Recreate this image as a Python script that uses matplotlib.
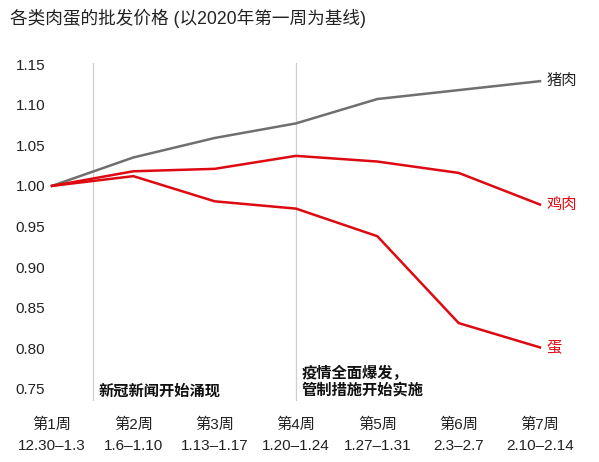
import matplotlib.pyplot as plt
import numpy as np

plt.rcParams['font.family'] = ['Liberation Sans', 'Noto Sans CJK SC', 'DejaVu Sans']

weeks = ["第1周", "第2周", "第3周", "第4周", "第5周", "第6周", "第7周"]
dates = ["12.30–1.3", "1.6–1.10", "1.13–1.17", "1.20–1.24",
         "1.27–1.31", "2.3–2.7", "2.10–2.14"]
pork = [1.000, 1.035, 1.059, 1.077, 1.107, 1.118, 1.129]
chicken = [1.000, 1.018, 1.021, 1.037, 1.030, 1.016, 0.977]
egg = [1.000, 1.012, 0.981, 0.972, 0.938, 0.831, 0.801]
yticks = [0.75, 0.80, 0.85, 0.90, 0.95, 1.00, 1.05, 1.10, 1.15]

events = [(1.5, "新冠新闻开始涌现"), (4, "疫情全面爆发，\n管制措施开始实施")]

grey = "#6f6f6f"
red = "#dd0a12"

fig = plt.figure(figsize=(5.99, 4.62), dpi=100)
ax = fig.add_axes([52 / 599, 1 - 401 / 462, 488 / 599, (401 - 62.5) / 462])

x = np.arange(1, len(weeks) + 1)
ax.plot(x, pork, color=grey, lw=1.8, clip_on=False, zorder=3)
ax.plot(x, chicken, color=red, lw=1.8, clip_on=False, zorder=3)
ax.plot(x, egg, color=red, lw=1.8, clip_on=False, zorder=3)

for xv, txt in events:
    ax.axvline(xv, color="#cfcfcf", lw=0.9, zorder=1)
    ax.text(xv + 0.07, 0.738, txt, fontsize=11, fontweight="bold",
            color="#111111", ha="left", va="bottom", linespacing=1.2)

ax.text(7.08, pork[-1], "猪肉", fontsize=11, color="#222222", va="center")
ax.text(7.08, chicken[-1], "鸡肉", fontsize=11, color=red, va="center")
ax.text(7.08, egg[-1], "蛋", fontsize=11, color=red, va="center")

ax.set_xlim(1, 7)
ax.set_ylim(0.735, 1.152)
ax.set_yticks(yticks)
ax.set_yticklabels(["{:.2f}".format(v) for v in yticks])
ax.set_xticks(x)
ax.set_xticklabels([w + "\n" + d for w, d in zip(weeks, dates)], linespacing=1.6)
ax.tick_params(length=0, labelsize=11, colors="#222222")
ax.tick_params(axis="y", pad=5)
ax.tick_params(axis="x", pad=12)
for s in ax.spines.values():
    s.set_visible(False)

fig.text(10 / 599, 1 - 18 / 462, "各类肉蛋的批发价格 (以2020年第一周为基线)",
         fontsize=12.7, color="#222222", va="center", ha="left")

fig.savefig("out.png", dpi=100)
